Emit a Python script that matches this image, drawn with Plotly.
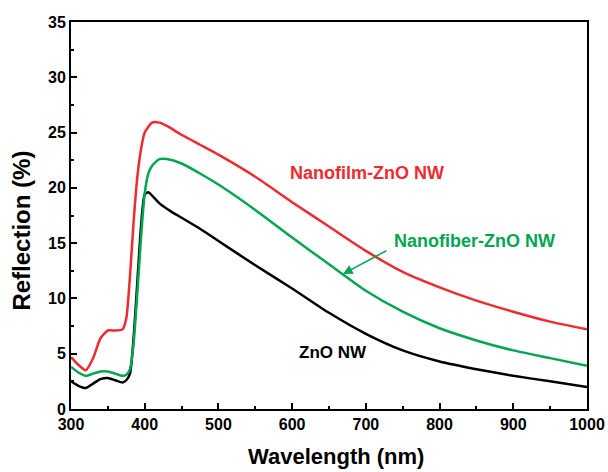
import plotly.graph_objects as go

wl_black = [300, 310, 320, 330, 340, 350, 360, 370, 375, 380, 385, 390, 395, 400, 405, 410, 420, 435, 450, 475, 500, 550, 600, 650, 700, 750, 800, 850, 900, 950, 1000]
r_black = [2.5, 2.1, 1.9, 2.3, 2.7, 2.8, 2.6, 2.4, 2.6, 3.2, 6.5, 11.5, 16.5, 19.4, 19.6, 19.3, 18.6, 17.9, 17.3, 16.3, 15.2, 13.0, 10.9, 8.7, 6.8, 5.3, 4.3, 3.6, 3.0, 2.5, 2.0]

wl_green = [300, 310, 320, 330, 340, 350, 360, 370, 375, 380, 385, 390, 395, 400, 405, 410, 420, 430, 450, 475, 500, 550, 600, 650, 700, 750, 800, 850, 900, 950, 1000]
r_green = [3.8, 3.3, 3.0, 3.2, 3.4, 3.4, 3.2, 3.0, 3.1, 3.6, 6.0, 10.5, 15.5, 19.5, 21.3, 22.0, 22.6, 22.6, 22.2, 21.3, 20.3, 18.0, 15.5, 13.1, 10.7, 8.8, 7.3, 6.2, 5.3, 4.6, 3.9]

wl_red = [300, 310, 320, 330, 340, 350, 360, 370, 375, 380, 385, 390, 395, 400, 410, 420, 430, 450, 475, 500, 550, 600, 650, 700, 750, 800, 850, 900, 950, 1000]
r_red = [4.7, 4.0, 3.5, 4.6, 6.4, 7.1, 7.1, 7.2, 8.2, 12.0, 17.0, 21.0, 23.5, 25.0, 25.9, 25.9, 25.6, 24.8, 23.9, 23.0, 21.0, 18.7, 16.5, 14.3, 12.4, 11.0, 9.8, 8.8, 7.9, 7.2]

x_ticks = [300, 400, 500, 600, 700, 800, 900, 1000]
y_ticks = [0, 5, 10, 15, 20, 25, 30, 35]

RED = "#EE2B2E"
GREEN = "#00A651"
BLACK = "#000000"
FONT = "Liberation Sans"

fig = go.Figure()
fig.add_trace(go.Scatter(x=wl_black, y=r_black, mode="lines", line=dict(color=BLACK, width=2.5, shape="spline", smoothing=0.6), showlegend=False))
fig.add_trace(go.Scatter(x=wl_green, y=r_green, mode="lines", line=dict(color=GREEN, width=2.5, shape="spline", smoothing=0.6), showlegend=False))
fig.add_trace(go.Scatter(x=wl_red, y=r_red, mode="lines", line=dict(color=RED, width=2.5, shape="spline", smoothing=0.6), showlegend=False))

axis_common = dict(
    showline=True, linecolor="black", linewidth=2, mirror=True,
    ticks="inside", ticklen=6, tickwidth=2, tickcolor="black",
    showgrid=False, zeroline=False, automargin=False,
    tickfont=dict(family=FONT, size=16, color="black", weight="bold"),
)

fig.update_xaxes(range=[300, 1000], tickvals=x_ticks, ticktext=[str(v) for v in x_ticks],
                 minor=dict(ticks="inside", ticklen=3, tickwidth=2, tickcolor="black", dtick=50, showgrid=False),
                 **axis_common)
fig.update_yaxes(range=[0, 35], tickvals=y_ticks, ticktext=[str(v) for v in y_ticks],
                 minor=dict(ticks="inside", ticklen=3, tickwidth=2, tickcolor="black", dtick=2.5, showgrid=False),
                 **axis_common)

# axis titles
fig.add_annotation(xref="paper", yref="paper", x=0.5136, y=-0.123, text="Wavelength (nm)", showarrow=False,
                   xanchor="center", yanchor="middle",
                   font=dict(family=FONT, size=22, color="black", weight="bold"))
fig.add_annotation(xref="paper", yref="paper", x=-0.095, y=0.461, text="Reflection (%)", showarrow=False,
                   xanchor="center", yanchor="middle", textangle=-90,
                   font=dict(family=FONT, size=24, color="black", weight="bold"))

# series labels
fig.add_annotation(x=701, y=21.3, text="Nanofilm-ZnO NW", showarrow=False, xanchor="center",
                   font=dict(family=FONT, size=18, color=RED, weight="bold"))
fig.add_annotation(x=848, y=15.2, text="Nanofiber-ZnO NW", showarrow=False, xanchor="center",
                   font=dict(family=FONT, size=18, color=GREEN, weight="bold"))
fig.add_annotation(x=655, y=5.15, text="ZnO NW", showarrow=False, xanchor="center",
                   font=dict(family=FONT, size=17, color=BLACK, weight="bold"))
fig.add_annotation(x=669, y=12.2, ax=730, ay=14.4, axref="x", ayref="y", text="", showarrow=True,
                   arrowhead=2, arrowsize=1.2, arrowwidth=1.6, arrowcolor=GREEN)

fig.update_layout(
    width=608, height=472,
    margin=dict(l=71, r=21, t=22, b=63),
    plot_bgcolor="white", paper_bgcolor="white",
    font=dict(family=FONT),
)

fig.write_html("out.html")
